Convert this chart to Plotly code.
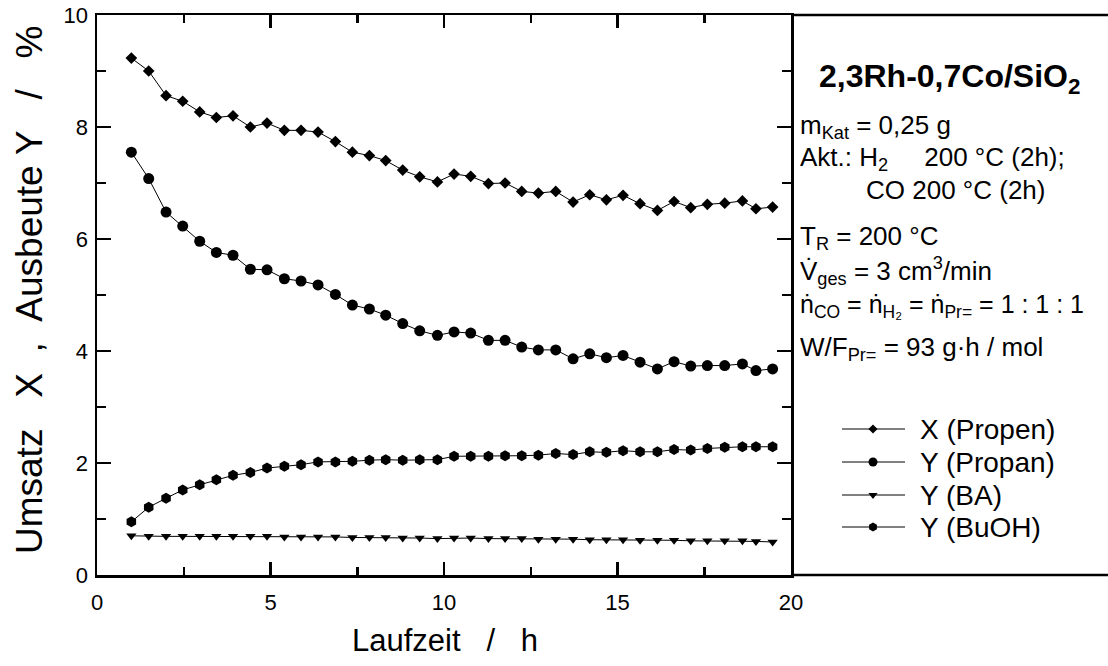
import plotly.graph_objects as go

# ---- data ----
laufzeit_h = [0.99, 1.49, 1.99, 2.47, 2.96, 3.44, 3.92, 4.42, 4.90, 5.40,
              5.88, 6.37, 6.87, 7.36, 7.85, 8.32, 8.81, 9.30, 9.81, 10.29,
              10.77, 11.28, 11.76, 12.24, 12.72, 13.22, 13.72, 14.20, 14.68, 15.16,
              15.65, 16.15, 16.63, 17.11, 17.59, 18.09, 18.60, 18.99, 19.47]

x_propen = [9.23, 9.00, 8.56, 8.46, 8.27, 8.17, 8.20, 8.00, 8.07, 7.94,
            7.94, 7.91, 7.74, 7.55, 7.49, 7.40, 7.23, 7.11, 7.02, 7.16,
            7.12, 6.99, 7.00, 6.85, 6.82, 6.85, 6.66, 6.79, 6.70, 6.78,
            6.63, 6.51, 6.67, 6.56, 6.62, 6.64, 6.68, 6.54, 6.57]

y_propan = [7.55, 7.08, 6.48, 6.23, 5.96, 5.76, 5.71, 5.46, 5.45, 5.29,
            5.25, 5.18, 5.01, 4.82, 4.75, 4.64, 4.49, 4.36, 4.28, 4.34,
            4.32, 4.19, 4.19, 4.07, 4.02, 4.02, 3.86, 3.95, 3.88, 3.92,
            3.80, 3.68, 3.81, 3.73, 3.74, 3.74, 3.77, 3.65, 3.68]

y_ba = [0.70, 0.69, 0.69, 0.69, 0.69, 0.69, 0.69, 0.69, 0.69, 0.68,
        0.68, 0.68, 0.68, 0.67, 0.67, 0.67, 0.66, 0.66, 0.65, 0.66,
        0.66, 0.65, 0.65, 0.65, 0.64, 0.64, 0.64, 0.63, 0.63, 0.63,
        0.62, 0.62, 0.62, 0.61, 0.61, 0.61, 0.61, 0.60, 0.59]

y_buoh = [0.95, 1.21, 1.37, 1.52, 1.61, 1.70, 1.78, 1.83, 1.91, 1.94,
          1.97, 2.02, 2.02, 2.03, 2.05, 2.06, 2.05, 2.06, 2.06, 2.12,
          2.12, 2.12, 2.13, 2.13, 2.14, 2.17, 2.15, 2.20, 2.19, 2.22,
          2.20, 2.20, 2.24, 2.23, 2.26, 2.28, 2.29, 2.29, 2.29]

series_names = ["X (Propen)", "Y (Propan)", "Y (BA)", "Y (BuOH)"]
series_values = [x_propen, y_propan, y_ba, y_buoh]
series_symbols = ["diamond", "circle", "triangle-down", "hexagon"]
series_sizes = [9, 11, 9, 11]
legend_sizes = [7, 9, 8, 9]

x_range = [0, 20]
y_range = [0, 10]
x_major_ticks = [0, 5, 10, 15, 20]
y_major_ticks = [0, 2, 4, 6, 8, 10]
x_minor_step = 2.5
y_minor_step = 1

FONT = "Liberation Sans, Arial, sans-serif"

# ---- geometry (pixels) ----
W, H = 1108, 666
L, R, T, B = 97, 0, 15, 91
PLOT_RIGHT = 791             # right edge of the data panel
pw = W - L - R
ph = H - T - B
split = (PLOT_RIGHT - L) / pw  # domain split between data panel and info panel


def px_x(px):
    return (px - L) / pw


def px_y(py):
    return (H - B - py) / ph


fig = go.Figure()

for name, vals, sym, sz in zip(series_names, series_values, series_symbols, series_sizes):
    fig.add_trace(go.Scatter(
        x=laufzeit_h, y=vals, mode="lines+markers", name=name, showlegend=False,
        line=dict(color="black", width=1),
        marker=dict(symbol=sym, size=sz, color="black"),
        cliponaxis=False, xaxis="x", yaxis="y",
    ))

# ---- hand-built legend on an auxiliary (hidden) axis pair in the right panel ----
legend_rows_px = [429, 462, 495, 527]
leg_x0 = (842 - PLOT_RIGHT) / (W - PLOT_RIGHT)
leg_x1 = (905 - PLOT_RIGHT) / (W - PLOT_RIGHT)
leg_xm = (873 - PLOT_RIGHT) / (W - PLOT_RIGHT)
for name, sym, sz, py in zip(series_names, series_symbols, legend_sizes, legend_rows_px):
    yy = px_y(py)
    fig.add_trace(go.Scatter(x=[leg_x0, leg_x1], y=[yy, yy], mode="lines",
                             line=dict(color="black", width=1), showlegend=False,
                             hoverinfo="skip", xaxis="x2", yaxis="y2"))
    fig.add_trace(go.Scatter(x=[leg_xm], y=[yy], mode="markers", name=name,
                             marker=dict(symbol=sym, size=sz, color="black"),
                             showlegend=False, hoverinfo="skip", xaxis="x2", yaxis="y2"))
    fig.add_annotation(text=name, xref="paper", yref="paper", x=px_x(918), y=yy,
                       xanchor="left", yanchor="middle", showarrow=False,
                       font=dict(family=FONT, size=28, color="black"))

axis_common = dict(
    showline=True, linecolor="black", linewidth=2.5, mirror="allticks",
    ticks="inside", tickcolor="black", tickwidth=2.5,
    showgrid=False, zeroline=False, tickmode="array", layer="above traces",
    tickfont=dict(family=FONT, size=22, color="black"),
)

fig.update_layout(
    width=W, height=H,
    margin=dict(l=L, r=R, t=T, b=B, pad=0, autoexpand=False),
    paper_bgcolor="white", plot_bgcolor="white",
    font=dict(family=FONT, color="black"),
    showlegend=False,
    xaxis=dict(domain=[0, split], range=x_range, tickvals=x_major_ticks, anchor="y",
               ticklen=13, ticklabelstandoff=6,
               minor=dict(dtick=x_minor_step, tick0=0, ticks="inside", ticklen=8,
                          tickwidth=2.5, tickcolor="black"),
               **axis_common),
    yaxis=dict(domain=[0, 1], range=y_range, tickvals=y_major_ticks, anchor="x",
               ticklen=14, ticklabelstandoff=2,
               minor=dict(dtick=y_minor_step, tick0=0, ticks="inside", ticklen=9,
                          tickwidth=2.5, tickcolor="black"),
               **axis_common),
    xaxis2=dict(domain=[split, 1], range=[0, 1], visible=False, anchor="y2", fixedrange=True),
    yaxis2=dict(domain=[0, 1], range=[0, 1], visible=False, anchor="x2", fixedrange=True),
)

# extended frame lines across the info panel
for yy in (0, 1):
    fig.add_shape(type="line", xref="paper", yref="paper", x0=split, x1=1, y0=yy, y1=yy,
                  line=dict(color="black", width=2.5))

# axis titles
fig.add_annotation(text="Laufzeit\u00a0\u00a0 /\u00a0\u00a0 h", xref="paper", yref="paper",
                   x=px_x(445), y=px_y(640), xanchor="center", yanchor="middle",
                   showarrow=False, font=dict(family=FONT, size=31, color="black"))
fig.add_annotation(
    text="Umsatz\u00a0\u00a0\u00a0X\u00a0\u00a0,\u00a0\u00a0Ausbeute\u00a0Y\u00a0\u00a0\u00a0/\u00a0\u00a0\u00a0%",
    xref="paper", yref="paper", x=px_x(29), y=px_y(290), xanchor="center", yanchor="middle",
    textangle=-90, showarrow=False, font=dict(family=FONT, size=37, color="black"))

# info panel texts
texts = [
    ("<b>2,3Rh-0,7Co/SiO<sub>2</sub></b>", 817, 78, 32),
    ("m<sub>Kat</sub> = 0,25 g", 798, 127, 26),
    ("Akt.: H<sub>2</sub>\u00a0\u00a0\u00a0\u00a0 200 °C (2h);", 798, 158, 26),
    ("CO 200 °C (2h)", 864, 190, 26),
    ("T<sub>R</sub> = 200 °C", 798, 237, 26),
    ("V\u0307<sub>ges</sub> = 3 cm<sup>3</sup>/min", 798, 271, 26),
    ("\u1e45<sub>CO</sub> = \u1e45<sub>H\u2082</sub> = \u1e45<sub>Pr=</sub> = 1 : 1 : 1", 798, 306, 25),
    ("W/F<sub>Pr=</sub> = 93 g\u00b7h / mol", 798, 348, 26),
]
for txt, px, py, fs in texts:
    fig.add_annotation(text=txt, xref="paper", yref="paper",
                       x=px_x(px), y=px_y(py),
                       xanchor="left", yanchor="middle", showarrow=False,
                       font=dict(family=FONT, size=fs, color="black"))

fig.write_html("out.html", config={"staticPlot": True})
